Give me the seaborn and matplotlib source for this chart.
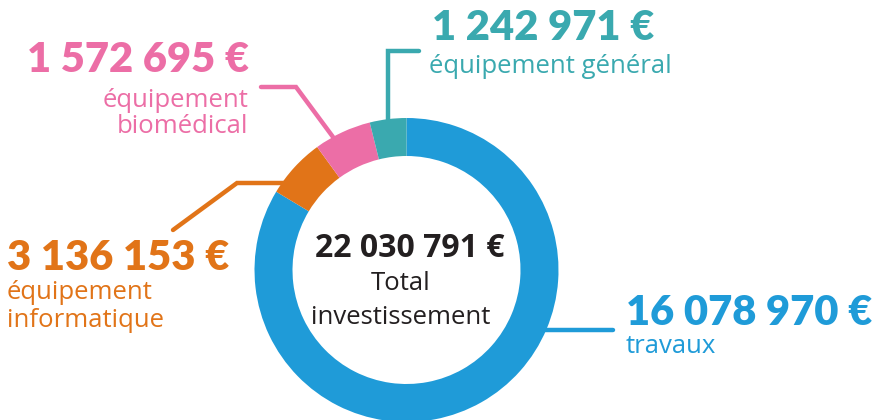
import matplotlib
matplotlib.use("Agg")
import matplotlib.pyplot as plt
import seaborn as sns

sns.set_theme(style="white")
plt.rcParams['font.family'] = ['Open Sans', 'DejaVu Sans']

# data
categories = ["travaux", "équipement\ninformatique", "équipement\nbiomédical", "équipement général"]
amounts = ["16 078 970 €", "3 136 153 €", "1 572 695 €", "1 242 971 €"]
# ring share as drawn in the picture (degrees of arc)
arc_share = [301, 23, 22, 14]
colors = ["#1f9bd8", "#e17418", "#ec6ea6", "#3aa9af"]
total_label = "22 030 791 €"
total_text = "Total\ninvestissement"

W, H = 873, 420
fig = plt.figure(figsize=(W / 100, H / 100), dpi=100)
ax = fig.add_axes([0, 0, 1, 1])

def Y(y):
    return H - y

cx, cy, r_out, r_in = 406.5, 270, 152, 114

ax.pie(arc_share, colors=colors, startangle=90, counterclock=False,
       center=(cx, Y(cy)), radius=r_out, frame=True,
       wedgeprops=dict(width=r_out - r_in, linewidth=0))
ax.set_xlim(0, W)
ax.set_ylim(0, H)
ax.axis("off")

lw = 3.2
# leader lines
ax.plot([388, 388, 419], [Y(120), Y(51), Y(51)], color=colors[3], lw=lw, solid_capstyle="round", solid_joinstyle="miter")
ax.plot([333, 296, 261], [Y(137), Y(87), Y(87)], color=colors[2], lw=lw, solid_capstyle="round", solid_joinstyle="miter")
ax.plot([285, 237, 173], [Y(183), Y(183), Y(230)], color=colors[1], lw=lw, solid_capstyle="round", solid_joinstyle="miter")
ax.plot([545, 613], [Y(330), Y(330)], color=colors[0], lw=lw, solid_capstyle="round")

big = dict(fontsize=30, fontweight="heavy", family=["Lato", "DejaVu Sans"])
small = dict(fontsize=18.5)

# travaux
ax.text(626, Y(325), amounts[0], color=colors[0], ha="left", va="baseline", **big)
ax.text(626, Y(353), categories[0], color=colors[0], ha="left", va="baseline", **small)
# informatique
ax.text(7, Y(270), amounts[1], color=colors[1], ha="left", va="baseline", **big)
ax.text(7, Y(299), "équipement", color=colors[1], ha="left", va="baseline", **small)
ax.text(7, Y(327), "informatique", color=colors[1], ha="left", va="baseline", **small)
# biomedical
ax.text(249, Y(72), amounts[2], color=colors[2], ha="right", va="baseline", **big)
ax.text(248, Y(107), "équipement", color=colors[2], ha="right", va="baseline", **small)
ax.text(248, Y(133), "biomédical", color=colors[2], ha="right", va="baseline", **small)
# general
ax.text(432, Y(40), amounts[3], color=colors[3], ha="left", va="baseline", **big)
ax.text(429, Y(73), categories[3], color=colors[3], ha="left", va="baseline", **small)

# center
ax.text(cx + 3, Y(257), total_label, color="#231f20", ha="center", va="baseline",
        fontsize=23, fontweight="bold")
ax.text(cx - 6, Y(290), "Total", color="#231f20", ha="center", va="baseline", fontsize=18.5)
ax.text(cx - 6, Y(324), "investissement", color="#231f20", ha="center", va="baseline", fontsize=18.5)

fig.savefig("out.png", dpi=100)
